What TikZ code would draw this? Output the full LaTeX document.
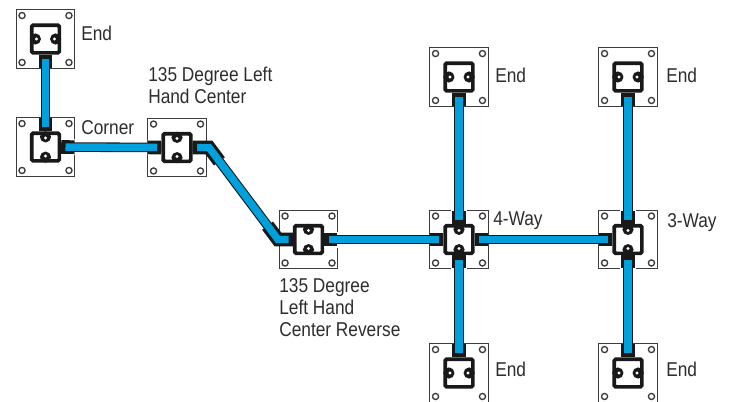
\documentclass[tikz,border=0pt]{standalone}
\usepackage{fontspec}
\setmainfont[FakeStretch=0.865]{Liberation Sans}
\usetikzlibrary{calc}
\definecolor{cableblue}{RGB}{0,160,220}
\definecolor{inkgrey}{RGB}{60,60,60}
\definecolor{textgrey}{RGB}{45,45,45}
\tikzset{
  plate/.style={draw=inkgrey,line width=0.9pt,fill=white,minimum size=44pt,inner sep=0pt},
  hole/.style={draw=inkgrey,line width=1pt,fill=white},
  module/.style={draw=black!90,line width=2.8pt,fill=white,minimum size=20.8pt,inner sep=0pt,rounded corners=1.2pt},
  bump/.style={fill=black!90},
  pin/.style={fill=white},
  halo/.style={draw=white,line width=12pt},
  stub/.style={draw=black!90,line width=10.2pt,line join=miter},
  sheath/.style={draw=black!90,line width=7.2pt,line join=miter},
  core/.style={draw=cableblue,line width=5.6pt,line join=miter,shorten <=3.2pt,shorten >=3.2pt},
  lbl/.style={font=\fontsize{15}{16.5}\selectfont,text=textgrey,align=left,inner sep=0pt,anchor=north west}
}
\newcommand{\fixture}[3]{%
  \node[plate] (p#1) at (#2,#3) {};
  \foreach \dx/\dy in {-17.6/-17.6,17.6/-17.6,-17.6/17.6,17.6/17.6}
    \path[hole,draw] ($(p#1.center)+(\dx pt,\dy pt)$) circle (2.3pt);
  \node[module] (m#1) at (#2,#3) {};
}
\newcommand{\bumpsV}[1]{%
  \fill[bump] ([yshift=-4.2pt]m#1.north) circle (4.2pt);
  \fill[bump] ([yshift=4.2pt]m#1.south) circle (4.2pt);
  \fill[pin] ([yshift=-5pt]m#1.north) circle (1.2pt);
  \fill[pin] ([yshift=5pt]m#1.south) circle (1.2pt);
}
\newcommand{\bumpsH}[1]{%
  \fill[bump] ([xshift=4.2pt]m#1.west) circle (4.2pt);
  \fill[bump] ([xshift=-4.2pt]m#1.east) circle (4.2pt);
  \fill[pin] ([xshift=5pt]m#1.west) circle (1.2pt);
  \fill[pin] ([xshift=-5pt]m#1.east) circle (1.2pt);
}
\newcommand{\cable}[2]{%
  \draw[halo] (#1) -- ($(#1)!10pt!(#2)$);
  \draw[halo] (#2) -- ($(#2)!10pt!(#1)$);
  \draw[sheath] (#1) -- (#2);
  \draw[stub] (#1) -- ($(#1)!9.8pt!(#2)$);
  \draw[stub] (#2) -- ($(#2)!9.8pt!(#1)$);
  \draw[core] (#1) -- (#2);
}
\begin{document}
\begin{tikzpicture}[x=0.75pt,y=-0.75pt]
\useasboundingbox (0,0) rectangle (734,401);
\clip (0,0) rectangle (734,401);
\fill[white] (0,0) rectangle (734,401);

\fixture{endA}{45.5}{39}
\fixture{corner}{45.5}{147}
\fixture{left}{177}{147.5}
\fixture{rev}{308.5}{239.5}
\fixture{four}{459}{239.5}
\fixture{three}{628}{239.5}
\fixture{endB}{459}{77}
\fixture{endC}{628}{77}
\fixture{endD}{459}{373}
\fixture{endE}{628}{373}

\cable{mendA.south}{mcorner.north}
\cable{mcorner.east}{mleft.west}
\cable{mrev.east}{mfour.west}
\cable{mfour.east}{mthree.west}
\cable{mendB.south}{mfour.north}
\cable{mendC.south}{mthree.north}
\cable{mfour.south}{mendD.north}
\cable{mthree.south}{mendE.north}

\coordinate (bendA) at (209,147.5);
\coordinate (bendB) at (278,239.5);
\draw[sheath] (mleft.east) -- (bendA) -- (bendB) -- (mrev.west);
\draw[stub] (mleft.east) -- (bendA) -- ($(bendA)!13pt!(bendB)$);
\draw[stub] (mrev.west) -- (bendB) -- ($(bendB)!13pt!(bendA)$);
\draw[core] (mleft.east) -- (bendA) -- (bendB) -- (mrev.west);

\bumpsH{endA}\bumpsH{endB}\bumpsH{endC}\bumpsH{endD}\bumpsH{endE}
\bumpsV{corner}\bumpsV{left}\bumpsV{rev}\bumpsV{four}\bumpsV{three}

\node[lbl] (tEndA) at (81,26) {End};
\node[lbl] (tCorner) at (81,120) {Corner};
\node[lbl] (tLeft) at (148,67) {135 Degree Left\\Hand Center};
\node[lbl] (tEndB) at (495,68) {End};
\node[lbl] (tEndC) at (666,68) {End};
\node[lbl] (tFour) at (493,211) {4-Way};
\node[lbl] (tThree) at (667,213) {3-Way};
\node[lbl] (tRev) at (279,278) {135 Degree\\Left Hand\\Center Reverse};
\node[lbl] (tEndD) at (495,362) {End};
\node[lbl] (tEndE) at (666,362) {End};
\end{tikzpicture}
\end{document}
